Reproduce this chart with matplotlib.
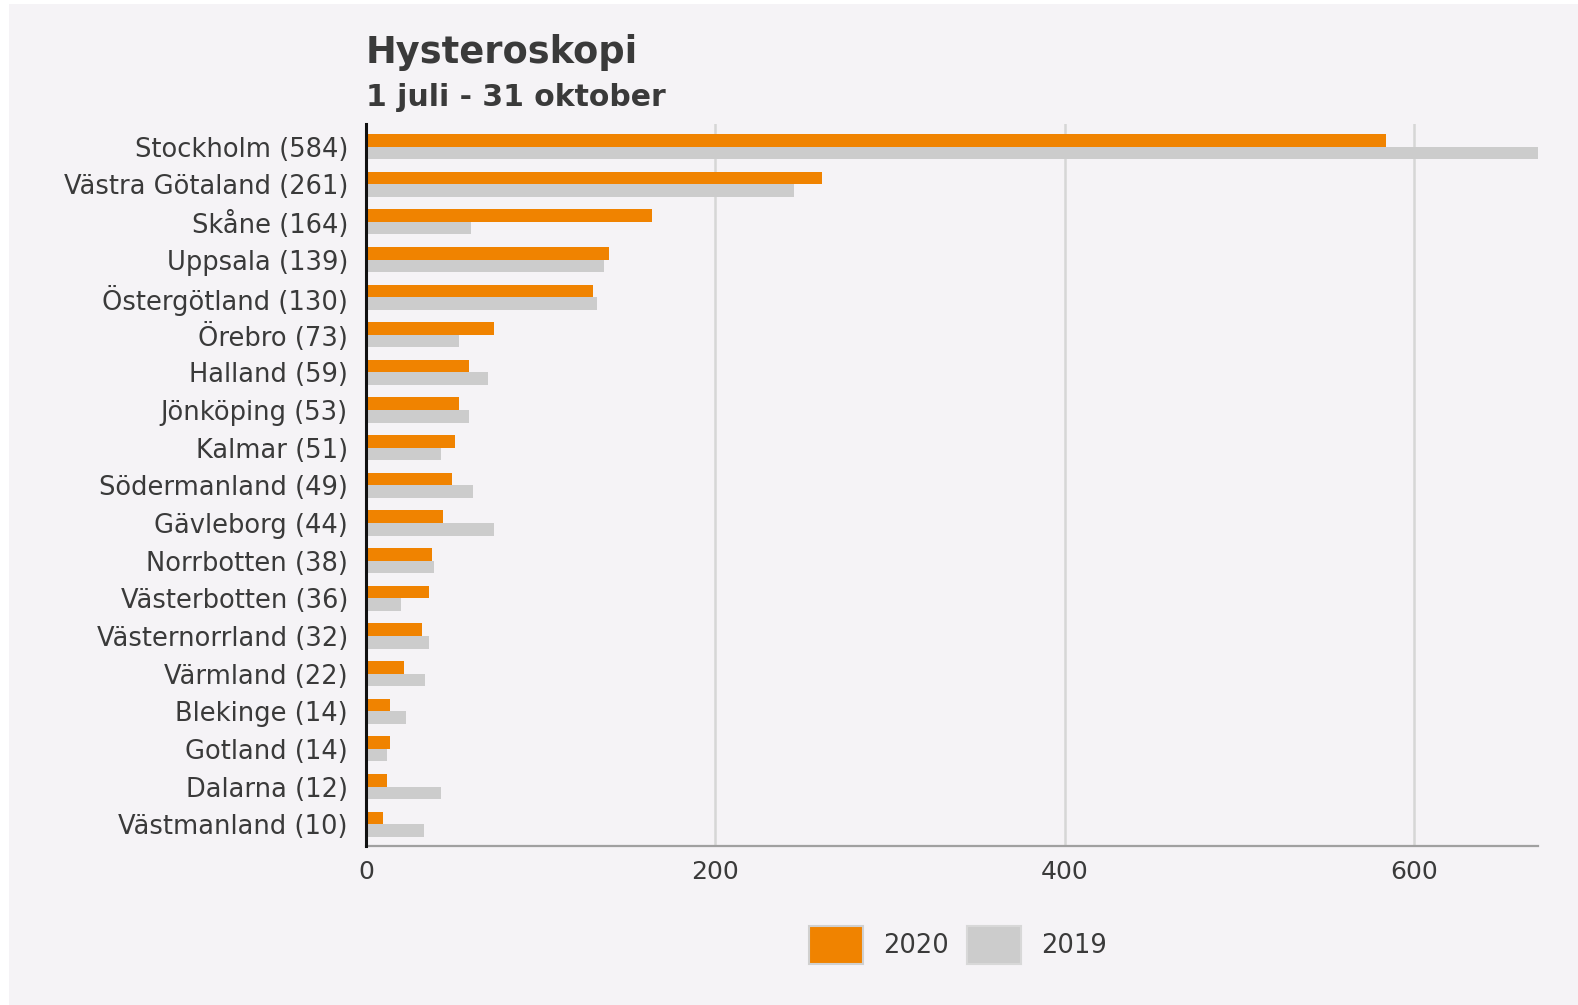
import matplotlib
matplotlib.use("Agg")
import matplotlib.pyplot as plt
from matplotlib.patches import Rectangle, Patch
import numpy as np

regions = ["Stockholm", "Västra Götaland", "Skåne", "Uppsala", "Östergötland",
           "Örebro", "Halland", "Jönköping", "Kalmar", "Södermanland",
           "Gävleborg", "Norrbotten", "Västerbotten", "Västernorrland",
           "Värmland", "Blekinge", "Gotland", "Dalarna", "Västmanland"]
values_2020 = [584, 261, 164, 139, 130, 73, 59, 53, 51, 49, 44, 38, 36, 32, 22, 14, 14, 12, 10]
values_2019 = [671, 245, 60, 136, 132, 53, 70, 59, 43, 61, 73, 39, 20, 36, 34, 23, 12, 43, 33]
x_ticks = [0, 200, 400, 600]
title = "Hysteroskopi"
subtitle = "1 juli - 31 oktober"
series_names = ["2020", "2019"]

ORANGE = "#f08300"
GREY = "#cccccc"
BG = "#f5f3f6"
TXT = "#3a3a3a"

plt.rcParams['font.family'] = ['DejaVu Sans']

W, H = 1578, 1005
fig = plt.figure(figsize=(W / 100, H / 100), dpi=100)
fig.patch.set_facecolor("white")
fig.patches.append(Rectangle((9 / W, 0), 1 - 9 / W, 1 - 4 / H, transform=fig.transFigure,
                             facecolor=BG, edgecolor="none", zorder=-10))

left, right, top, bottom = 366, 1538, 124, 846
ax = fig.add_axes([left / W, 1 - bottom / H, (right - left) / W, (bottom - top) / H])
ax.set_facecolor(BG)

y = np.arange(len(regions))
h = 0.335
ax.barh(y - h / 2, values_2020, height=h, color=ORANGE, zorder=3, label=series_names[0])
ax.barh(y + h / 2, values_2019, height=h, color=GREY, zorder=3, label=series_names[1])

ax.set_xlim(0, 671)
ax.set_ylim(18.58, -0.6)

ax.set_yticks(y)
ax.set_yticklabels([f"{r} ({v})" for r, v in zip(regions, values_2020)])
ax.set_xticks(x_ticks)
ax.set_xticklabels([str(t) for t in x_ticks])
ax.tick_params(axis="y", length=0, pad=13, labelsize=18.5, labelcolor=TXT)
ax.tick_params(axis="x", length=0, pad=10, labelsize=18, labelcolor=TXT)

ax.grid(axis="x", color="#d6d6d6", linewidth=1.8, zorder=0)
ax.grid(axis="y", visible=False)
for s in ["top", "right"]:
    ax.spines[s].set_visible(False)
ax.spines["left"].set_color("#111111")
ax.spines["left"].set_linewidth(2.2)
ax.spines["left"].set_zorder(5)
ax.spines["bottom"].set_color("#a0a0a0")
ax.spines["bottom"].set_linewidth(1.6)

fig.text(366 / W, 1 - 63 / H, title, fontsize=26.5, fontweight="bold", color=TXT,
         ha="left", va="baseline")
fig.text(366 / W, 1 - 106 / H, subtitle, fontsize=21.5, fontweight="bold", color=TXT,
         ha="left", va="baseline")

handles = [Patch(facecolor=ORANGE, edgecolor="#d0d0d0", linewidth=1.5, label=series_names[0]),
           Patch(facecolor=GREY, edgecolor="#d8d8d8", linewidth=1.5, label=series_names[1])]
fig.legend(handles=handles, loc="center", bbox_to_anchor=(958 / W, 1 - 945 / H), ncol=2,
           frameon=False, fontsize=18.5, handlelength=2.1, handleheight=1.9,
           handletextpad=0.8, columnspacing=0.7, labelcolor=TXT)

fig.savefig("out.png", dpi=100, facecolor=fig.get_facecolor())
